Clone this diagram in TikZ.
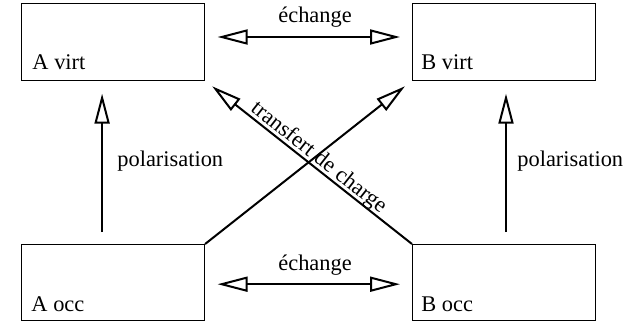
\documentclass[tikz,border=0pt]{standalone}
\usepackage{fontspec}
\setmainfont{Liberation Serif}
\usetikzlibrary{arrows.meta,calc}
\tikzset{
  box/.style={draw, line width=0.5pt, minimum width=91.5pt, minimum height=38.2pt, inner sep=0pt},
  boxlabel/.style={anchor=base west, inner sep=0pt},
  arr/.style={line width=1pt, -{Triangle[open, length=15pt, width=7.5pt]}},
  darr/.style={line width=1pt, {Triangle[open, length=15pt, width=7.5pt]}-{Triangle[open, length=15pt, width=7.5pt]}},
  lbl/.style={anchor=base west, inner sep=0pt}
}
\begin{document}
\begin{tikzpicture}[x=0.5pt, y=-0.5pt, font=\fontsize{11.2}{13.4}\selectfont]
\useasboundingbox (0,0) rectangle (639,322);
% boxes
\node[box] (Avirt) at (113.1,42) {};
\node[box] (Bvirt) at (504,42) {};
\node[box] (Aocc) at (113.1,282.7) {};
\node[box] (Bocc) at (504,282.7) {};
% box labels
\node[boxlabel] (tAv) at ($(Avirt.south west)+(11,-11)$) {A virt};
\node[boxlabel] (tBv) at ($(Bvirt.south west)+(9,-11)$) {B virt};
\node[boxlabel] (tAo) at ($(Aocc.south west)+(10,-9.5)$) {A occ};
\node[boxlabel] (tBo) at ($(Bocc.south west)+(9,-9.5)$) {B occ};
% exchange arrows
\draw[darr, shorten <=12.5pt*0.5, shorten >=12pt*0.5] ($(Avirt.east)+(0,-5)$) -- ($(Bvirt.west)+(0,-5)$);
\draw[darr, shorten <=12.5pt*0.5, shorten >=12pt*0.5] ($(Aocc.east)+(0,1.5)$) -- ($(Bocc.west)+(0,1.5)$);
\node[lbl] (e1) at (278,22) {échange};
\node[lbl] (e2) at (278,270) {échange};
% polarisation arrows
\draw[arr, shorten <=6pt, shorten >=6.5pt] ($(Aocc.north)+(-11,0)$) -- ($(Avirt.south)+(-11,0)$);
\draw[arr, shorten <=6pt, shorten >=6.5pt] ($(Bocc.north)+(2,0)$) -- ($(Bvirt.south)+(2,0)$);
\node[lbl] (p1) at (117,166) {polarisation};
\node[lbl] (p2) at (517,166) {polarisation};
% charge transfer
\draw[arr, shorten >=4.5pt] (Aocc.north east) -- (Bvirt.south west);
\draw[arr, shorten >=4.5pt] (Bocc.north west) -- (Avirt.south east)
  node[pos=0.48, sloped, anchor=base, yshift=2pt, inner sep=0pt] (tc) {transfert de charge};
\end{tikzpicture}
\end{document}
